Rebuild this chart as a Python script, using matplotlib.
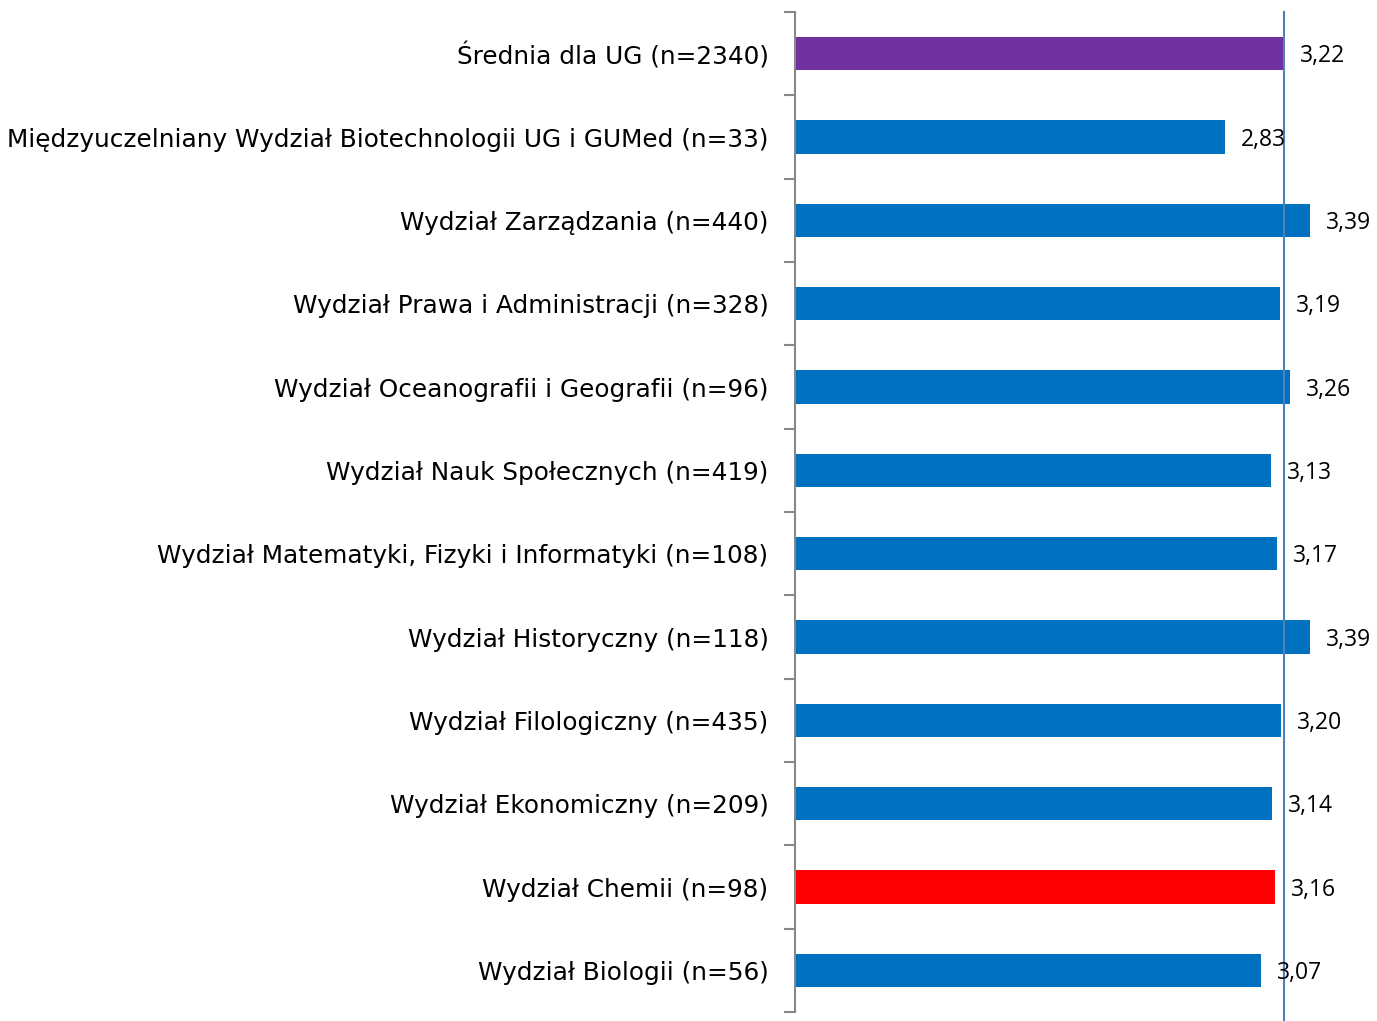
import matplotlib.pyplot as plt
import numpy as np

categories = [
    "Średnia dla UG (n=2340)",
    "Międzyuczelniany Wydział Biotechnologii UG i GUMed (n=33)",
    "Wydział Zarządzania (n=440)",
    "Wydział Prawa i Administracji (n=328)",
    "Wydział Oceanografii i Geografii (n=96)",
    "Wydział Nauk Społecznych (n=419)",
    "Wydział Matematyki, Fizyki i Informatyki (n=108)",
    "Wydział Historyczny (n=118)",
    "Wydział Filologiczny (n=435)",
    "Wydział Ekonomiczny (n=209)",
    "Wydział Chemii (n=98)",
    "Wydział Biologii (n=56)",
]
values = [3.22, 2.83, 3.39, 3.19, 3.26, 3.13, 3.17, 3.39, 3.20, 3.14, 3.16, 3.07]
mean_value = 3.22

colors = ["#7030A0"] + ["#0070C0"] * 9 + ["#FF0000", "#0070C0"]

fig = plt.figure(figsize=(13.77, 10.21), dpi=100)
W, H = 1377, 1021
ax = fig.add_axes([795 / W, 1 - 1012 / H, (1342 - 795) / W, (1012 - 12) / H])

y = np.arange(len(categories))
ax.barh(y, values, height=0.4, color=colors, zorder=2)
ax.set_ylim(len(categories) - 0.5, -0.5)
ax.set_xlim(0, 3.6)

# linia średniej
ax.axvline(mean_value, ymin=-0.012, ymax=1, color="#4F81BD", lw=1.5, clip_on=False, zorder=3)

for yi, v in zip(y, values):
    ax.text(v + 0.105, yi + 0.03, f"{v:.2f}".replace(".", ","), va="center", ha="left",
            fontsize=16.5, family="Open Sans", color="black", zorder=4)

ax.set_yticks(y)
ax.set_yticklabels(categories, fontsize=17.8, family="DejaVu Sans")
ax.tick_params(axis="y", which="major", length=0, pad=19)
ax.set_yticks(np.arange(-0.5, len(categories), 1), minor=True)
ax.tick_params(axis="y", which="minor", length=8, width=1.5, color="#888888")
ax.set_xticks([])
for s in ["top", "right", "bottom"]:
    ax.spines[s].set_visible(False)
ax.spines["left"].set_color("#888888")
ax.spines["left"].set_linewidth(1.5)

plt.savefig("out.png", dpi=100)
